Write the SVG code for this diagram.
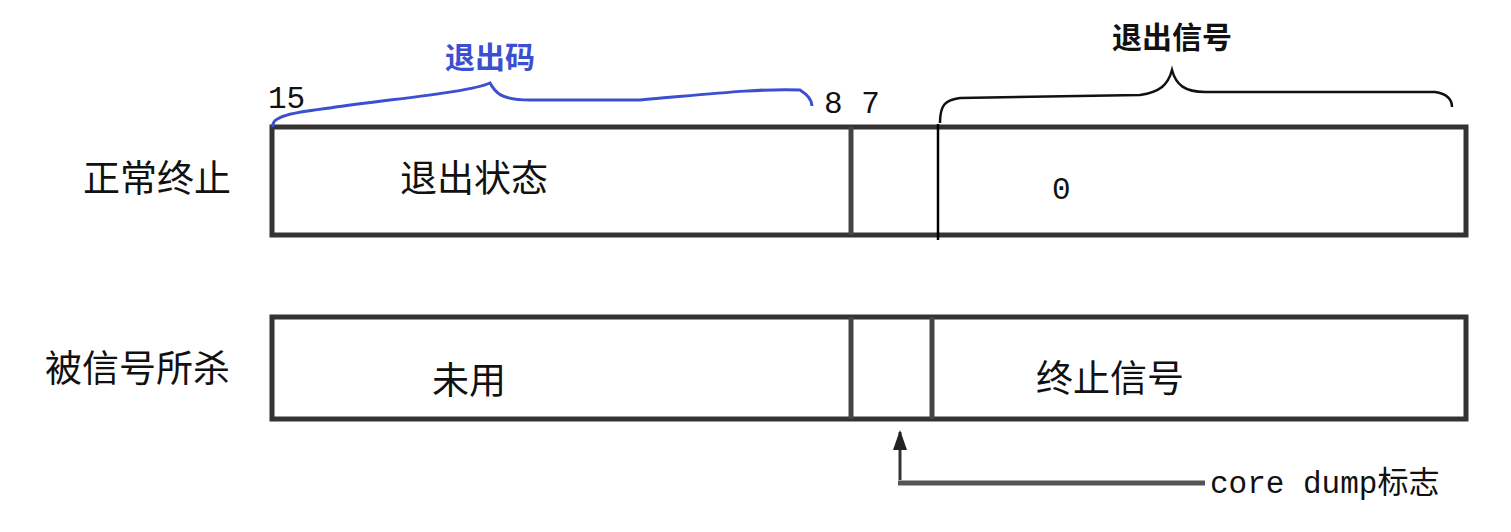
<svg xmlns="http://www.w3.org/2000/svg" width="1511" height="532" viewBox="0 0 1511 532">
<style>
.box{fill:#fff;stroke:#333;stroke-width:5}
.div{stroke:#444;stroke-width:5}
.t{font-family:"Noto Sans CJK SC",sans-serif;font-size:37px;fill:#111}
.m{font-family:"Liberation Mono","Noto Sans CJK SC",monospace;font-size:31px;fill:#111}
.b{font-family:"Noto Sans CJK SC",sans-serif;font-size:30px;font-weight:bold}
</style>
<defs><marker id="ah" markerWidth="20" markerHeight="14" refX="18" refY="7" orient="auto" markerUnits="userSpaceOnUse" viewBox="0 0 20 14"><path d="M0,0 L20,7 L0,14Z" fill="#222"/></marker></defs>
<rect width="1511" height="532" fill="#fff"/>
<g id="row1">
<rect class="box" x="272" y="127" width="1194" height="108"/>
<line class="div" x1="851" y1="127" x2="851" y2="235"/>
<line x1="938" y1="124" x2="938" y2="240" stroke="#000" stroke-width="2.5"/>
<text class="t" x="83" y="192">正常终止</text>
<text class="t" x="400" y="192">退出状态</text>
<text class="m" x="1052" y="199" font-size="28">0</text>
</g>
<g id="row2">
<rect class="box" x="272" y="317" width="1194" height="102"/>
<line class="div" x1="851" y1="317" x2="851" y2="419"/>
<line class="div" x1="932" y1="317" x2="932" y2="419"/>
<text class="t" x="45" y="382">被信号所杀</text>
<text class="t" x="432" y="394">未用</text>
<text class="t" x="1036" y="392">终止信号</text>
</g>
<g id="labels">
<text class="m" x="268" y="108" font-family="Liberation Serif" font-size="33">15</text>
<text class="m" x="824" y="113" font-family="Liberation Serif" font-size="33">8 7</text>
<text class="b" x="445" y="68" fill="#3b4fd0">退出码</text>
<text class="b" x="1112" y="48" fill="#111">退出信号</text>
<text class="m" x="1210" y="493">core dump标志</text>
</g>
<g id="connectors" fill="none">
<path d="M273,127 C270,115 300,112 330,108 C400,98 470,92 490,83 C495,92 500,100 530,100 L640,100 C700,95 760,88 800,90 C808,95 812,100 812,106" stroke="#3b4fd0" stroke-width="3"/>
<path d="M940,123 C940,105 945,100 960,98 L1140,95 C1160,92 1168,85 1172,70 C1176,85 1185,92 1205,92 L1435,92 C1448,94 1452,100 1452,107" stroke="#111" stroke-width="2.5"/>
<path d="M900,480 L900,432" stroke="#333" stroke-width="3" marker-end="url(#ah)"/>
<path d="M898,483 L1205,483" stroke="#555" stroke-width="5"/>
</g>
</svg>
